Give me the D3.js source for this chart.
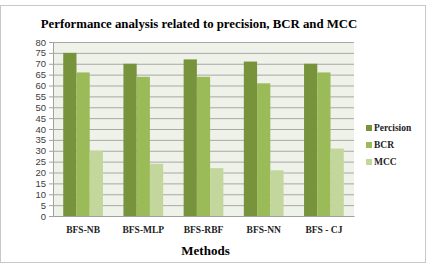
<!DOCTYPE html>
<html>
<head>
<meta charset="utf-8">
<script src="https://cdn.jsdelivr.net/npm/d3@7"></script>
<style>
  body { margin: 0; background: #fff; }
</style>
</head>
<body>
<div id="vis"></div>
<script>
// data
const methods = ["BFS-NB", "BFS-MLP", "BFS-RBF", "BFS-NN", "BFS - CJ"];
const seriesNames = ["Percision", "BCR", "MCC"];
const percision = [75, 70, 72, 71, 70];
const bcr = [66, 64, 64, 61, 66];
const mcc = [30, 24, 22, 21, 31];
const yTicks = d3.range(0, 81, 5);

const W = 428, H = 266;
const plot = {left: 53, top: 42, right: 354, bottom: 216};

const svg = d3.select('#vis')
  .append('svg')
  .attr('width', W)
  .attr('height', H);

// outer chart frame
svg.append("rect")
  .attr("x", 0.5).attr("y", 5.5)
  .attr("width", 425).attr("height", 257)
  .attr("fill", "#fff")
  .attr("stroke", "#c8c8c8");

// title
svg.append("text")
  .attr("x", 199).attr("y", 28)
  .attr("text-anchor", "middle")
  .attr("font-family", "'Liberation Serif', serif")
  .attr("font-weight", "bold")
  .attr("font-size", 12.8)
  .text("Performance analysis related to precision, BCR and MCC");

const x0 = d3.scaleBand()
  .domain(methods)
  .range([plot.left, plot.right])
  .paddingInner(0.34)
  .paddingOuter(0.17);

const x1 = d3.scaleBand()
  .domain(seriesNames)
  .range([0, x0.bandwidth()]);

const y = d3.scaleLinear()
  .domain([0, 80])
  .range([plot.bottom, plot.top]);

const color = d3.scaleOrdinal()
  .domain(seriesNames)
  .range(["#77933c", "#9bbb59", "#c3d69b"]);

// plot background
svg.append("rect")
  .attr("x", plot.left).attr("y", plot.top)
  .attr("width", plot.right - plot.left)
  .attr("height", plot.bottom - plot.top)
  .attr("fill", "#eef2e9");

// gridlines + y axis
const yAxis = svg.append("g")
  .attr("transform", `translate(${plot.left},0)`)
  .call(d3.axisLeft(y).tickValues(yTicks).tickSize(-(plot.right - plot.left)).tickPadding(7));
yAxis.select(".domain").attr("stroke", "#a0a0a0");
yAxis.selectAll(".tick line").attr("stroke", "#a8a8a8");
yAxis.selectAll(".tick text")
  .attr("font-family", "'Liberation Sans', Arial, sans-serif")
  .attr("font-size", 9.5)
  .attr("fill", "#404040");
// little outside tick marks
yAxis.selectAll(".tick").append("line")
  .attr("x1", -4).attr("x2", 0)
  .attr("stroke", "#a0a0a0");

const rows = methods.map((m, i) => ({
  method: m,
  values: [percision[i], bcr[i], mcc[i]]
}));

svg.append("g")
  .selectAll("g")
  .data(rows)
  .join("g")
  .attr("transform", d => `translate(${x0(d.method)},0)`)
  .selectAll("rect")
  .data(d => seriesNames.map((key, j) => ({key, value: d.values[j]})))
  .join("rect")
  .attr("x", d => x1(d.key))
  .attr("y", d => y(d.value))
  .attr("width", x1.bandwidth())
  .attr("height", d => y(0) - y(d.value))
  .attr("fill", d => color(d.key));

// x axis
const xAxis = svg.append("g")
  .attr("transform", `translate(0,${plot.bottom})`)
  .call(d3.axisBottom(x0).tickSize(0).tickPadding(10));
xAxis.select(".domain").attr("stroke", "#a0a0a0");
xAxis.selectAll(".tick text")
  .attr("font-family", "'Liberation Serif', serif")
  .attr("font-weight", "bold")
  .attr("font-size", 9.5)
  .attr("fill", "#222");

svg.append("text")
  .attr("x", (plot.left + plot.right) / 2 + 2).attr("y", 255)
  .attr("text-anchor", "middle")
  .attr("font-family", "'Liberation Serif', serif")
  .attr("font-weight", "bold")
  .attr("font-size", 13)
  .text("Methods");

// legend
const legend = svg.append("g")
  .attr("transform", "translate(366,125)")
  .selectAll("g")
  .data(seriesNames)
  .join("g")
  .attr("transform", (d, i) => `translate(0,${i * 17})`);

legend.append("rect")
  .attr("width", 6).attr("height", 6)
  .attr("fill", color);

legend.append("text")
  .attr("x", 8).attr("y", 3)
  .attr("dy", "0.35em")
  .attr("font-family", "'Liberation Serif', serif")
  .attr("font-weight", "bold")
  .attr("font-size", 9.5)
  .attr("fill", "#222")
  .text(d => d);
</script>
</body>
</html>
